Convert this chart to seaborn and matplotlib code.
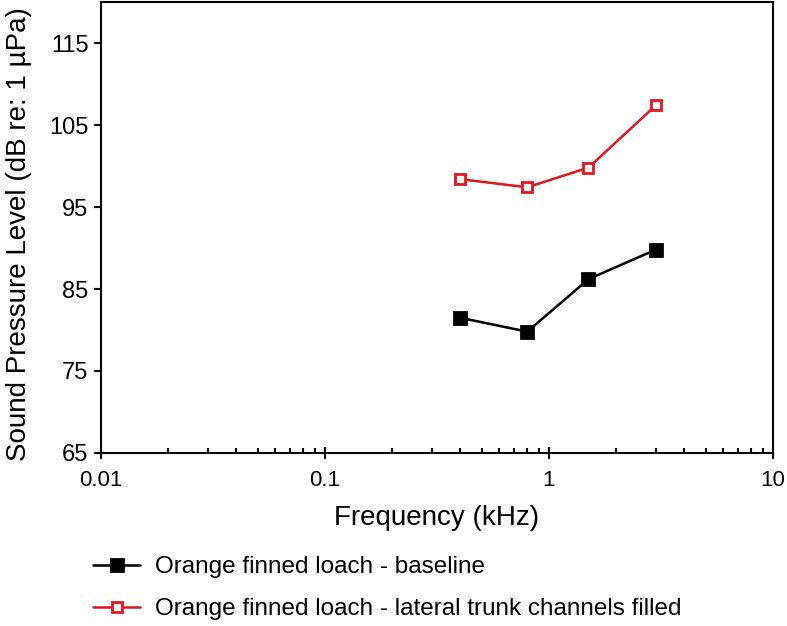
import matplotlib
matplotlib.use("Agg")
import matplotlib.pyplot as plt
import seaborn as sns
import pandas as pd
from matplotlib.ticker import LogLocator, FixedLocator, NullFormatter

sns.set_style("white")
plt.rcParams['font.family'] = ['Liberation Sans', 'DejaVu Sans']
plt.rcParams['text.color'] = 'black'
plt.rcParams['axes.labelcolor'] = 'black'
plt.rcParams['xtick.color'] = 'black'
plt.rcParams['ytick.color'] = 'black'

freq = [0.4, 0.8, 1.5, 3.0]
baseline = [81.5, 79.8, 86.2, 89.8]
filled = [98.4, 97.4, 99.8, 107.4]
labels = ["Orange finned loach - baseline",
          "Orange finned loach - lateral trunk channels filled"]
yticks = [65, 75, 85, 95, 105, 115]
xticks = [0.01, 0.1, 1, 10]
xticklabels = ["0.01", "0.1", "1", "10"]

df = pd.DataFrame({
    "freq": freq * 2,
    "spl": baseline + filled,
    "series": [labels[0]] * 4 + [labels[1]] * 4,
})

fig = plt.figure(figsize=(7.87, 6.26), dpi=100)
ax = fig.add_axes([101 / 787, 1 - 453 / 626, (773 - 101) / 787, (453 - 2) / 626])

styles = [dict(color="black", mfc="black", ms=9), dict(color="#e3161e", mfc="white", ms=7.5)]
for lab, st in zip(labels, styles):
    sub = df[df.series == lab]
    sns.lineplot(data=sub, x="freq", y="spl", ax=ax, color=st["color"], marker="s",
                 markersize=st["ms"], markerfacecolor=st["mfc"],
                 markeredgecolor=st["color"], markeredgewidth=2, linewidth=1.8,
                 label=lab, legend=False)

ax.set_xscale("log")
ax.set_xlim(0.01, 10)
ax.set_ylim(65, 120)
ax.xaxis.set_major_locator(FixedLocator(xticks))
ax.set_xticklabels(xticklabels)
ax.xaxis.set_minor_locator(LogLocator(base=10, subs=range(2, 10)))
ax.xaxis.set_minor_formatter(NullFormatter())
ax.set_yticks(yticks)
ax.tick_params(axis="x", which="major", direction="inout", length=8, width=1.5,
               labelsize=16, pad=8, bottom=True)
ax.tick_params(axis="x", which="minor", direction="in", length=3.5, width=1.5, bottom=True)
ax.tick_params(axis="y", which="major", direction="out", length=5, width=1.5,
               labelsize=17, pad=4, left=True)
for s in ax.spines.values():
    s.set_linewidth(1.5)
    s.set_color("black")
ax.set_xlabel("Frequency (kHz)", fontsize=20, labelpad=10)
ax.set_ylabel("Sound Pressure Level (dB re: 1 µPa)", fontsize=20, labelpad=12)
ax.yaxis.label.set_y(0.485)

h, l = ax.get_legend_handles_labels()
fig.legend(h, l, loc="upper left", bbox_to_anchor=(93 / 787, 1 - 556 / 626),
           frameon=False, fontsize=17.5, handlelength=1.95, handletextpad=0.6,
           labelspacing=0.84, borderpad=0, borderaxespad=0)

fig.savefig("out.png", dpi=100)
